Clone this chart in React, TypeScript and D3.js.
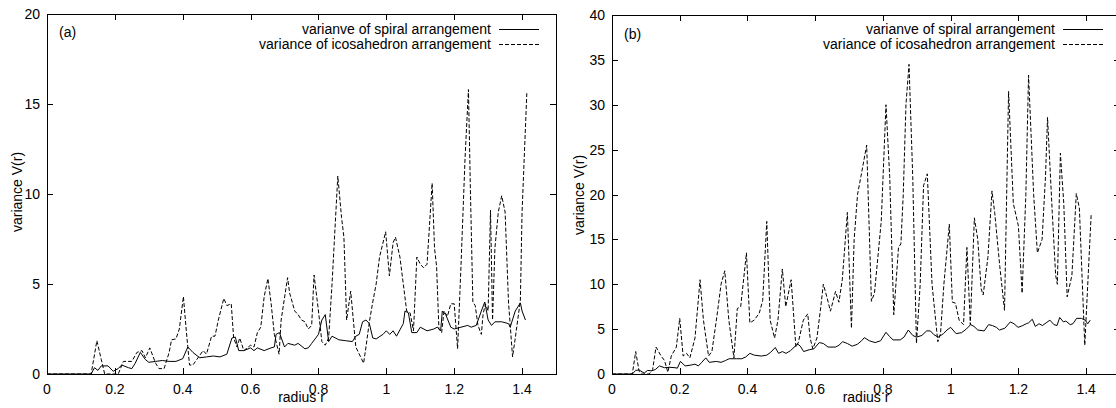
import React from 'react';
import * as d3 from 'd3';

// tick values and labels
const xTicks = [0, 0.2, 0.4, 0.6, 0.8, 1, 1.2, 1.4];
const yTicksA = [0, 5, 10, 15, 20];
const yTicksB = [0, 5, 10, 15, 20, 25, 30, 35, 40];
const legendLabels = ['varianve of spiral arrangement', 'variance of icosahedron arrangement'];

// panel (a): [radius r, variance V(r)]
const spiralA: [number, number][] = [
  [0, 0], [0.13, 0], [0.14, 0.35], [0.15, 0.2], [0.16, 0.45], [0.18, 0.45], [0.195, 0.15], [0.21, 0.3],
  [0.22, 0.5], [0.24, 0.35], [0.25, 0.3], [0.26, 0.6], [0.275, 1.2], [0.29, 0.8], [0.3, 0.65], [0.32, 0.7],
  [0.34, 0.75], [0.36, 0.7], [0.38, 0.7], [0.4, 0.85], [0.415, 1.5], [0.43, 1.2], [0.45, 0.9], [0.47, 0.95],
  [0.49, 1.0], [0.51, 0.95], [0.53, 1.1], [0.545, 2.0], [0.555, 2.05], [0.565, 1.3], [0.58, 1.3], [0.6, 1.45],
  [0.61, 1.3], [0.62, 1.45], [0.64, 1.3], [0.66, 1.45], [0.67, 1.5], [0.675, 2.2], [0.685, 2.3], [0.7, 1.5],
  [0.71, 1.7], [0.73, 1.6], [0.74, 1.7], [0.76, 1.4], [0.77, 1.45], [0.78, 1.7], [0.8, 2.2], [0.81, 3.0],
  [0.82, 3.3], [0.83, 1.8], [0.84, 2.1], [0.86, 1.9], [0.88, 1.85], [0.9, 1.8], [0.91, 2.1], [0.92, 2.2],
  [0.93, 2.9], [0.94, 3.0], [0.95, 2.8], [0.96, 2.0], [0.97, 1.95], [0.99, 2.2], [1.0, 2.4], [1.01, 2.2],
  [1.02, 2.4], [1.03, 2.1], [1.05, 2.8], [1.055, 3.5], [1.065, 3.4], [1.075, 2.3], [1.09, 2.3], [1.1, 2.6],
  [1.12, 2.4], [1.14, 2.5], [1.15, 2.6], [1.16, 2.4], [1.165, 3.5], [1.175, 3.3], [1.19, 2.6], [1.2, 2.5],
  [1.22, 2.6], [1.24, 2.7], [1.25, 2.6], [1.265, 2.7], [1.28, 3.5], [1.29, 4.0], [1.3, 3.0], [1.31, 2.7],
  [1.32, 2.9], [1.34, 2.9], [1.36, 2.8], [1.365, 2.6], [1.38, 3.5], [1.395, 3.95], [1.4, 3.5], [1.41, 3.0],
];

const icoA: [number, number][] = [
  [0, 0], [0.13, 0], [0.147, 1.85], [0.16, 0.8], [0.17, 0], [0.21, 0], [0.225, 0.7], [0.25, 0.7],
  [0.265, 1.2], [0.28, 1.3], [0.29, 0.9], [0.303, 1.45], [0.32, 0.6], [0.33, 0.3], [0.345, 0.3], [0.36, 1.2],
  [0.367, 1.9], [0.38, 1.95], [0.39, 2.5], [0.402, 4.3], [0.41, 2.5], [0.42, 0.5], [0.43, 0.5], [0.445, 0.9],
  [0.46, 1.3], [0.47, 1.1], [0.485, 2.1], [0.495, 2.1], [0.505, 3.0], [0.521, 4.2], [0.53, 3.8], [0.543, 3.9],
  [0.55, 2.0], [0.56, 1.5], [0.568, 2.0], [0.58, 1.3], [0.6, 1.6], [0.61, 1.5], [0.62, 2.3], [0.63, 2.6],
  [0.64, 4.3], [0.651, 5.3], [0.66, 4.0], [0.67, 2.2], [0.684, 1.1], [0.69, 3.0], [0.709, 5.35], [0.715, 4.5],
  [0.73, 3.5], [0.74, 3.3], [0.75, 3.0], [0.76, 2.9], [0.77, 2.5], [0.78, 2.7], [0.787, 5.5], [0.8, 3.5],
  [0.81, 1.8], [0.82, 1.6], [0.83, 2.0], [0.84, 5.0], [0.857, 11.0], [0.868, 8.7], [0.875, 7.6], [0.883, 3.0],
  [0.895, 4.6], [0.91, 1.5], [0.933, 0.6], [0.94, 1.5], [0.95, 2.9], [0.96, 4.0], [0.97, 5.0], [0.98, 6.5],
  [0.998, 7.9], [1.009, 5.45], [1.02, 7.3], [1.027, 7.6], [1.04, 6.5], [1.05, 5.0], [1.06, 3.5], [1.07, 3.4],
  [1.08, 2.4], [1.09, 6.5], [1.1, 6.1], [1.11, 5.9], [1.12, 6.1], [1.135, 10.6], [1.142, 7.0], [1.148, 6.0],
  [1.155, 2.5], [1.163, 2.3], [1.17, 3.5], [1.18, 3.2], [1.19, 3.9], [1.2, 3.9], [1.21, 1.4], [1.22, 6.0],
  [1.232, 12.0], [1.242, 15.8], [1.248, 10.0], [1.255, 4.0], [1.262, 3.8], [1.27, 2.7], [1.28, 2.2], [1.285, 3.3],
  [1.292, 3.9], [1.3, 3.5], [1.307, 9.1], [1.313, 3.0], [1.32, 7.0], [1.33, 9.0], [1.34, 9.9], [1.35, 9.0],
  [1.36, 4.0], [1.372, 0.95], [1.38, 2.0], [1.395, 4.1], [1.4, 9.0], [1.414, 15.6],
];

// panel (b)
const spiralB: [number, number][] = [
  [0, 0], [0.06, 0], [0.07, 0.4], [0.08, 0.45], [0.095, 0.1], [0.105, 0.4], [0.117, 0.35], [0.128, 0.5],
  [0.14, 0.9], [0.155, 0.7], [0.17, 0.75], [0.186, 0.7], [0.193, 0.65], [0.202, 1.4], [0.216, 0.9], [0.234, 1.0],
  [0.245, 1.1], [0.255, 0.9], [0.265, 1.3], [0.277, 1.8], [0.287, 1.3], [0.308, 1.4], [0.322, 1.3], [0.335, 1.5],
  [0.346, 1.7], [0.367, 1.7], [0.383, 1.7], [0.395, 1.9], [0.407, 2.3], [0.42, 2.1], [0.441, 2.0], [0.457, 2.1],
  [0.468, 2.4], [0.482, 2.95], [0.492, 2.3], [0.503, 2.5], [0.514, 2.3], [0.527, 2.6], [0.548, 3.35], [0.556, 3.1],
  [0.566, 2.5], [0.582, 2.7], [0.596, 2.8], [0.612, 3.5], [0.624, 3.4], [0.638, 3.0], [0.66, 3.0], [0.67, 3.2],
  [0.681, 3.6], [0.695, 3.4], [0.709, 3.1], [0.724, 3.3], [0.737, 3.7], [0.745, 4.05], [0.76, 3.7], [0.777, 3.5],
  [0.793, 3.7], [0.809, 4.65], [0.819, 4.2], [0.83, 3.8], [0.851, 3.8], [0.862, 4.1], [0.875, 4.9], [0.888, 4.3],
  [0.899, 4.1], [0.915, 4.3], [0.929, 4.8], [0.94, 4.8], [0.95, 4.4], [0.963, 4.1], [0.979, 4.5], [0.989, 4.9],
  [1.0, 5.2], [1.016, 4.5], [1.032, 4.6], [1.046, 5.0], [1.059, 5.5], [1.069, 5.3], [1.08, 4.9], [1.099, 4.8],
  [1.112, 5.5], [1.123, 5.4], [1.135, 5.2], [1.144, 4.9], [1.16, 5.1], [1.176, 5.8], [1.187, 5.6], [1.199, 5.2],
  [1.213, 5.4], [1.223, 5.6], [1.23, 5.7], [1.241, 6.1], [1.25, 5.3], [1.261, 5.6], [1.271, 5.4], [1.282, 5.7],
  [1.293, 6.0], [1.305, 5.5], [1.314, 5.4], [1.322, 6.3], [1.333, 5.8], [1.34, 5.9], [1.353, 5.5], [1.361, 5.6],
  [1.372, 6.2], [1.386, 6.2], [1.397, 6.0], [1.405, 5.6], [1.412, 6.0],
];

const icoB: [number, number][] = [
  [0, 0], [0.06, 0], [0.07, 2.5], [0.08, 0.3], [0.09, 0], [0.11, 0], [0.12, 0.5], [0.13, 3.0],
  [0.145, 2.0], [0.155, 1.5], [0.165, 0.2], [0.175, 2.0], [0.19, 3.0], [0.2, 6.2], [0.21, 2.0], [0.22, 2.3],
  [0.23, 1.8], [0.245, 4.0], [0.26, 10.5], [0.27, 6.0], [0.285, 2.0], [0.295, 2.5], [0.31, 6.5], [0.322, 10.0],
  [0.333, 11.5], [0.345, 6.0], [0.36, 1.8], [0.37, 7.3], [0.38, 7.5], [0.397, 13.5], [0.407, 5.7], [0.42, 6.0],
  [0.435, 6.8], [0.445, 8.2], [0.457, 17.0], [0.467, 6.0], [0.48, 4.0], [0.49, 6.0], [0.503, 11.7], [0.513, 7.5],
  [0.529, 10.5], [0.543, 3.0], [0.55, 3.5], [0.565, 6.0], [0.578, 6.7], [0.585, 4.0], [0.593, 2.8], [0.605, 4.0],
  [0.615, 7.0], [0.624, 10.0], [0.635, 8.5], [0.645, 7.0], [0.66, 9.2], [0.67, 8.0], [0.68, 10.5], [0.695, 18.0],
  [0.707, 5.1], [0.715, 15.0], [0.725, 20.0], [0.735, 22.0], [0.752, 25.5], [0.766, 8.1], [0.775, 9.0], [0.785, 13.0],
  [0.795, 17.0], [0.809, 30.0], [0.82, 22.0], [0.832, 6.6], [0.846, 14.1], [0.853, 14.5], [0.86, 20.0], [0.868, 30.0],
  [0.877, 34.5], [0.888, 22.0], [0.899, 3.4], [0.91, 10.0], [0.92, 21.0], [0.931, 22.3], [0.945, 10.0], [0.962, 3.6],
  [0.97, 4.5], [0.98, 10.0], [0.996, 16.7], [1.005, 8.0], [1.014, 7.9], [1.025, 6.0], [1.038, 5.5], [1.048, 14.1],
  [1.058, 5.5], [1.07, 17.4], [1.08, 15.0], [1.09, 9.5], [1.096, 8.8], [1.11, 13.0], [1.122, 20.4], [1.13, 18.0],
  [1.145, 12.0], [1.159, 7.1], [1.171, 31.5], [1.185, 19.0], [1.2, 16.5], [1.211, 9.0], [1.222, 20.0], [1.23, 33.3],
  [1.245, 20.0], [1.256, 13.5], [1.27, 15.0], [1.28, 22.0], [1.286, 28.6], [1.3, 18.0], [1.31, 11.0], [1.315, 10.0],
  [1.324, 24.6], [1.334, 19.0], [1.344, 8.6], [1.358, 11.0], [1.371, 20.1], [1.38, 18.5], [1.396, 3.2], [1.415, 17.9],
];

const FONT = '"Liberation Sans", Arial, Helvetica, sans-serif';
const TICK = 6;

type PanelProps = {
  left: number; right: number; top: number; bottom: number;
  yMax: number; yTicks: number[];
  spiral: [number, number][]; ico: [number, number][];
  tag: string; tagX: number; tagY: number;
  yTitleX: number; yTitleY: number;
};

function Panel(p: PanelProps) {
  const x = d3.scaleLinear().domain([0, 1.5]).range([p.left, p.right]);
  const y = d3.scaleLinear().domain([0, p.yMax]).range([p.bottom, p.top]);
  const line = d3.line<[number, number]>().x(d => x(d[0])).y(d => y(d[1]));
  const legendEnd = p.right - 65;

  return (
    <g fontFamily={FONT} fontSize={14} fill="#000">
      <rect x={p.left + 0.5} y={p.top + 0.5} width={p.right - p.left} height={p.bottom - p.top}
        fill="none" stroke="#000" strokeWidth={1} />
      {xTicks.map(t => (
        <g key={'x' + t}>
          <line x1={Math.round(x(t)) + 0.5} x2={Math.round(x(t)) + 0.5} y1={p.bottom} y2={p.bottom - TICK} stroke="#000" />
          <line x1={Math.round(x(t)) + 0.5} x2={Math.round(x(t)) + 0.5} y1={p.top} y2={p.top + TICK} stroke="#000" />
          <text x={x(t)} y={p.bottom + 20} textAnchor="middle">{String(t)}</text>
        </g>
      ))}
      {p.yTicks.map(t => (
        <g key={'y' + t}>
          <line x1={p.left} x2={p.left + TICK} y1={Math.round(y(t)) + 0.5} y2={Math.round(y(t)) + 0.5} stroke="#000" />
          <line x1={p.right} x2={p.right - TICK} y1={Math.round(y(t)) + 0.5} y2={Math.round(y(t)) + 0.5} stroke="#000" />
          <text x={p.left - 7} y={y(t) + 5} textAnchor="end">{t}</text>
        </g>
      ))}
      <path d={line(p.spiral) ?? ''} fill="none" stroke="#000" strokeWidth={1} />
      <path d={line(p.ico) ?? ''} fill="none" stroke="#000" strokeWidth={1} strokeDasharray="4,2" />
      <text x={p.tagX} y={p.tagY}>{p.tag}</text>
      <text x={legendEnd} y={34} textAnchor="end">{legendLabels[0]}</text>
      <text x={legendEnd} y={49} textAnchor="end">{legendLabels[1]}</text>
      <line x1={p.right - 57} x2={p.right - 17} y1={29.5} y2={29.5} stroke="#000" />
      <line x1={p.right - 57} x2={p.right - 17} y1={44.5} y2={44.5} stroke="#000" strokeDasharray="4,2" />
      <text x={(p.left + p.right) / 2} y={402} textAnchor="middle">radius r</text>
      <text transform={`translate(${p.yTitleX},${p.yTitleY}) rotate(-90)`} textAnchor="middle" dy={5}>variance V(r)</text>
    </g>
  );
}

export default function App() {
  return (
    <svg width={1116} height={408} style={{ position: 'absolute', left: 0, top: 0, background: '#fff' }}>
      <rect width={1116} height={408} fill="#fff" />
      <Panel left={47} right={556} top={14} bottom={374} yMax={20} yTicks={yTicksA}
        spiral={spiralA} ico={icoA} tag="(a)" tagX={59} tagY={37} yTitleX={17} yTitleY={192} />
      <Panel left={612} right={1120} top={15} bottom={374} yMax={40} yTicks={yTicksB}
        spiral={spiralB} ico={icoB} tag="(b)" tagX={624} tagY={39} yTitleX={579} yTitleY={195} />
    </svg>
  );
}
